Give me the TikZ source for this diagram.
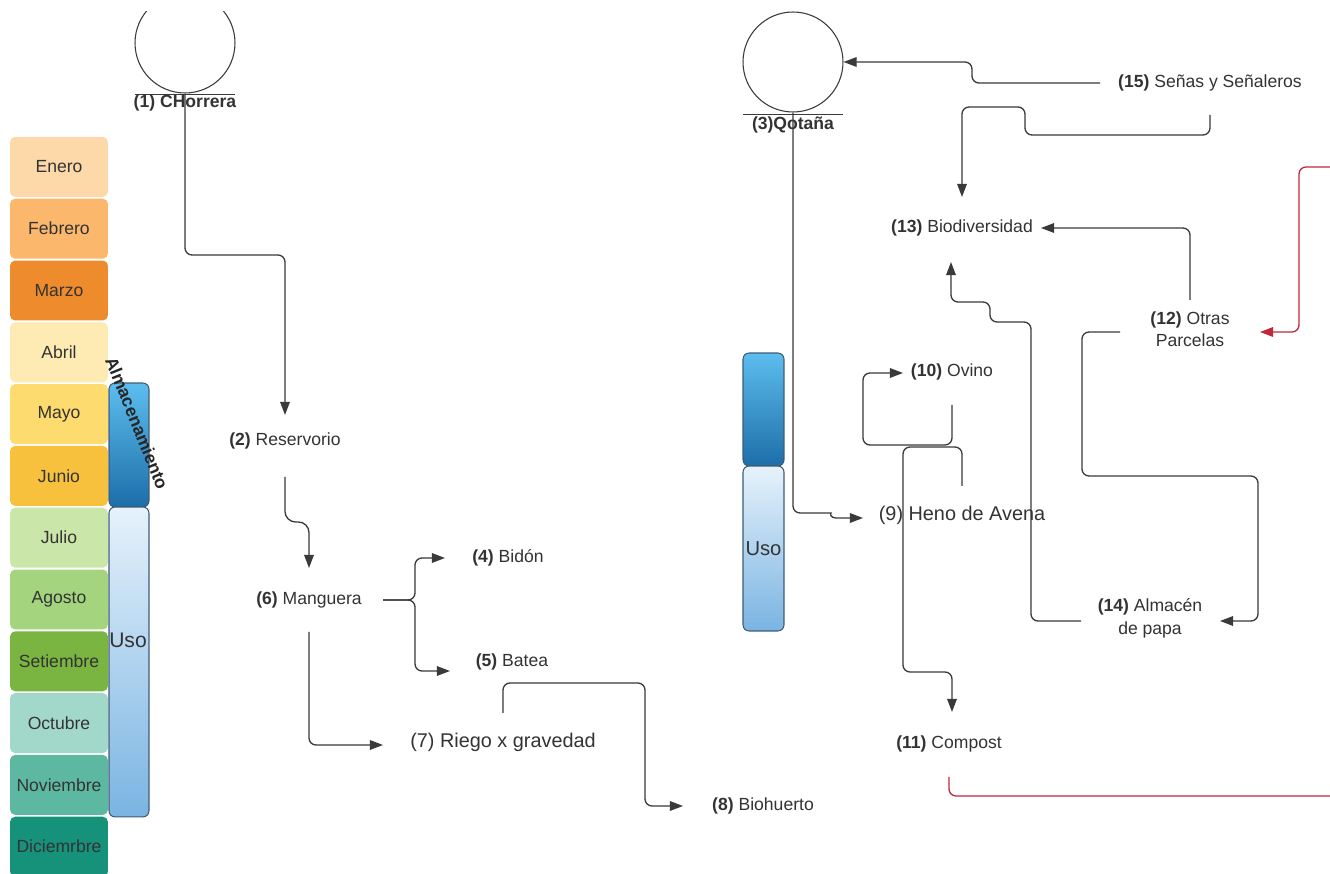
\documentclass[tikz,border=0pt]{standalone}
\usepackage{fontspec}
\setmainfont{Liberation Sans}
\usetikzlibrary{arrows.meta,calc}
\definecolor{ln}{HTML}{3A3A3A}
\definecolor{txt}{HTML}{333333}
\definecolor{rd}{HTML}{C0283A}
\definecolor{bd}{HTML}{3F5B75}
\definecolor{mA}{HTML}{FDD8A9}
\definecolor{mB}{HTML}{FBB86C}
\definecolor{mC}{HTML}{EE8B2C}
\definecolor{mD}{HTML}{FDEBB3}
\definecolor{mE}{HTML}{FDDB6E}
\definecolor{mF}{HTML}{F8C13D}
\definecolor{mG}{HTML}{CAE6A9}
\definecolor{mH}{HTML}{A4D57E}
\definecolor{mI}{HTML}{7AB542}
\definecolor{mJ}{HTML}{A2D8CA}
\definecolor{mK}{HTML}{5DB8A2}
\definecolor{mL}{HTML}{16917A}
\definecolor{almA}{HTML}{5DBDEE}
\definecolor{almB}{HTML}{1C6EA8}
\definecolor{usoA}{HTML}{E6F2FB}
\definecolor{usoB}{HTML}{7AB4E2}
\begin{document}
\begin{tikzpicture}[x=0.02cm,y=-0.02cm,
  lbl/.style={inner sep=0pt, text=txt, font=\fontsize{10}{12.5}\selectfont, align=center},
  big/.style={inner sep=0pt, text=txt, font=\fontsize{11.3}{13.5}\selectfont},
  conn/.style={draw=ln, line width=0.75pt, rounded corners=4pt},
  arr/.style={conn, -{Triangle[length=7.5pt,width=5.5pt]}},
  rconn/.style={draw=rd, line width=0.75pt, rounded corners=4pt},
  rarr/.style={rconn, -{Triangle[length=7.5pt,width=5.5pt]}},
  month/.style={rounded corners=3pt, minimum width=1.96cm, minimum height=1.2cm, inner sep=0pt, font=\fontsize{10}{12}\selectfont, text=txt},
  src/.style={circle, draw=ln, line width=0.6pt, minimum size=2cm, inner sep=0pt},
  bar/.style={draw=bd, line width=0.6pt, rounded corners=3.5pt, inner sep=0pt, minimum width=0.8cm},
]
\useasboundingbox (0,0) rectangle (1330,874);
\fill[white] (0,0) rectangle (1330,874);

% calendar
\foreach \nm/\col [count=\i] in {Enero/mA,Febrero/mB,Marzo/mC,Abril/mD,Mayo/mE,Junio/mF,Julio/mG,Agosto/mH,Setiembre/mI,Octubre/mJ,Noviembre/mK,Diciemrbre/mL}
  \node[month, fill=\col] (m\i) at (59,{136+61.8*(\i-0.5)}) {\nm};

% bars
\node[bar, top color=almA, bottom color=almB, minimum height=2.48cm] (alm1) at (129,445) {};
\node[bar, top color=usoA, bottom color=usoB, minimum height=6.2cm] (uso1) at (129,662) {};
\node[inner sep=0pt, text=txt, font=\fontsize{12}{14}\selectfont] (usot1) at (128,640) {Uso};
\node[inner sep=0pt, text=black!85, font=\bfseries\fontsize{10}{12}\selectfont, rotate=-68] (almt) at (137,423) {Almacenamiento};
\node[bar, top color=almA, bottom color=almB, minimum width=0.82cm, minimum height=2.26cm] (alm2) at (763.5,409.5) {};
\node[bar, top color=usoA, bottom color=usoB, minimum width=0.82cm, minimum height=3.3cm, text=txt, font=\fontsize{11.5}{14}\selectfont] (uso2) at (763.5,548.5) {Uso};

% sources
\begin{scope}
\clip (0,12) rectangle (1330,874);
\node[src] (c1) at (185,43) {};
\end{scope}
\draw[ln, line width=0.6pt] ($(c1.south)+(-50,1)$) -- ($(c1.south)+(50,1)$);
\node[lbl, font=\bfseries\fontsize{10}{12}\selectfont] (l1) at (185,103) {(1) CHorrera};
\node[src] (c3) at (793,62) {};
\draw[ln, line width=0.6pt] ($(c3.south)+(-50,2)$) -- ($(c3.south)+(50,2)$);
\node[lbl, font=\bfseries\fontsize{10}{12}\selectfont] (l3) at (793,125) {(3)Qotaña};

% text nodes
\node[lbl] (n2) at (285,441) {\textbf{(2)} Reservorio};
\node[lbl] (n6) at (309,600) {\textbf{(6)} Manguera};
\node[lbl] (n4) at (508,558) {\textbf{(4)} Bidón};
\node[lbl] (n5) at (512,662) {\textbf{(5)} Batea};
\node[big] (n7) at (503,742) {(7) Riego x gravedad};
\node[lbl] (n8) at (763,806) {\textbf{(8)} Biohuerto};
\node[lbl] (n15) at (1210,83) {\textbf{(15)} Señas y Señaleros};
\node[lbl] (n13) at (962,228) {\textbf{(13)} Biodiversidad};
\node[lbl] (n12) at (1190,329) {\textbf{(12)} Otras\\Parcelas};
\node[lbl] (n10) at (952,372) {\textbf{(10)} Ovino};
\node[big] (n9) at (962,515) {(9) Heno de Avena};
\node[lbl, font=\fontsize{10}{13}\selectfont] (n14) at (1150,618) {\textbf{(14)} Almacén\\de papa};
\node[lbl] (n11) at (949,744) {\textbf{(11)} Compost};

% left connectors
\draw[arr] (c1.south) -- (c1.south |- 0,255) -| ($(n2)+(0,-26)$);
\draw[arr, rounded corners=6pt] ($(n2)+(0,36)$) -- ($(n2)+(0,81)$) -- ($(n6)+(0,-78)$) -- ($(n6)+(0,-32)$);
\draw[arr] ($(n6)+(74,0)$) -- ($(n6)+(106,0)$) |- ($(n4)+(-63,0)$);
\draw[arr] ($(n6)+(74,0)$) -- ($(n6)+(106,0)$) |- ($(n5)+(-62,9)$);
\draw[arr] ($(n6)+(0,32)$) |- ($(n7)+(-120,3)$);
\draw[arr] ($(n7)+(0,-29)$) |- (645,683) |- ($(n8)+(-80,0)$);

% right connectors
\draw[arr] (c3.south) -- (793,513) -- (824,513) [sharp corners] .. controls (830,513) and (830,518) .. (836,518) -- ($(n9)+(-99,3)$);
\draw[arr] ($(n15)+(-110,0)$) -- (972,83) -- (972,62) -- (c3.east);
\draw[arr] ($(n15)+(0,32)$) -- (1210,135) -- (1025,135) -- (1025,107) -- (962,107) -- ($(n13)+(0,-31)$);
\draw[arr] ($(n12)+(0,-29)$) |- ($(n13)+(79,0)$);
\coordinate (redin) at (1340,167);
\draw[rarr] (redin) -- (1299,167) -- (1299,332) -- ($(n12)+(70,3)$);
\draw[arr] ($(n12)+(-70,3)$) -- (1082,332) -- (1082,476) -- (1258,476) -- (1258,621) -- ($(n14)+(70,3)$);
\draw[arr] ($(n14)+(-69,3)$) -- (1031,621) -- (1031,322) -- (990,322) -- (990,302) -- (951,302) -- ($(n13)+(-11,34)$);
\draw[arr] ($(n10)+(0,33)$) -- (952,445) -- (863,445) -- (863,373) -- ($(n10)+(-49,1)$);
\draw[arr] ($(n9)+(0,-29)$) -- (962,447) -- (903,447) -- (903,672) -- (952,672) -- ($(n11)+(3,-32)$);
\coordinate (redout) at (1340,796);
\draw[rconn] ($(n11)+(0,33)$) |- (redout);
\end{tikzpicture}
\end{document}
